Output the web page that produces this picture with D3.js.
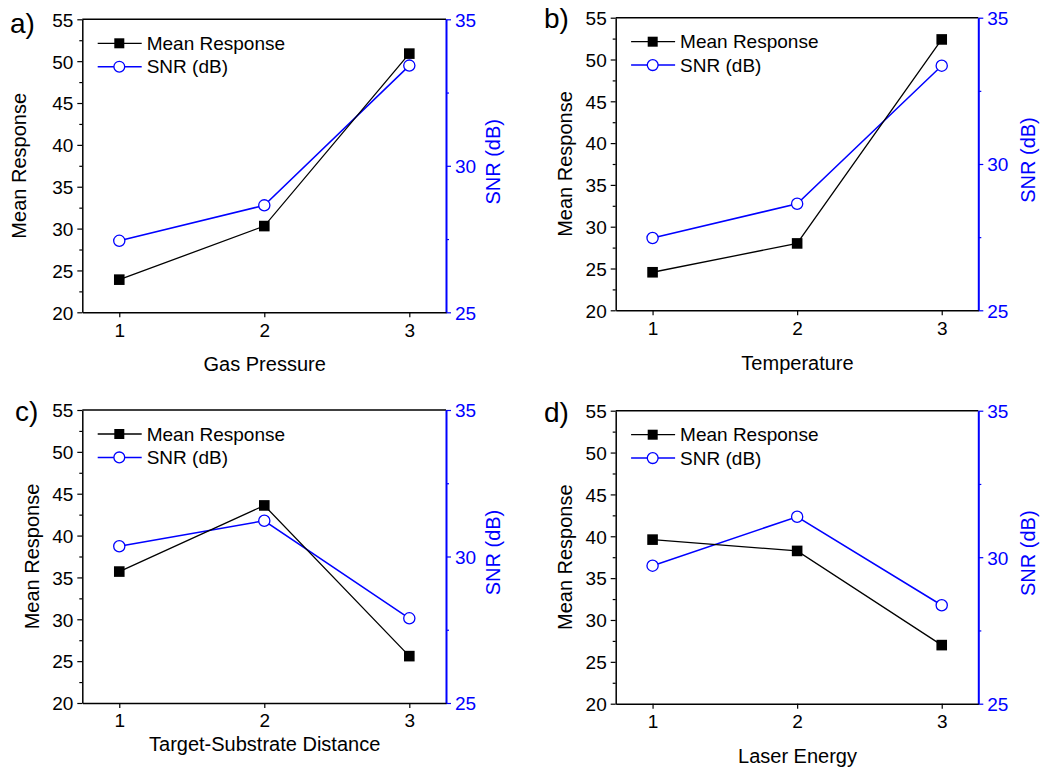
<!DOCTYPE html>
<html><head><meta charset="utf-8">
<script src="https://cdn.jsdelivr.net/npm/d3@7"></script>
<style>body{margin:0;background:#fff} text{font-family:Arial,"Liberation Sans",sans-serif}</style>
</head><body><svg id="c" width="1041" height="773"></svg>
<script>
// ---- data ----
const categories = [1, 2, 3];
const xTickLabels = ["1", "2", "3"];
const leftTicks = [20, 25, 30, 35, 40, 45, 50, 55];
const leftMinor = [22.5, 27.5, 32.5, 37.5, 42.5, 47.5, 52.5];
const rightTicks = [25, 30, 35];
const rightMinor = [27.5, 32.5];
const panelLabels = ["a)", "b)", "c)", "d)"];
const xTitles = ["Gas Pressure", "Temperature", "Target-Substrate Distance", "Laser Energy"];
const seriesNames = ["Mean Response", "SNR (dB)"];
const leftTitle = "Mean Response";
const rightTitle = "SNR (dB)";

const meanA = [23.9, 30.3, 50.9];
const snrA  = [27.44, 28.65, 33.42];
const meanB = [24.55, 28.0, 52.4];
const snrB  = [27.47, 28.64, 33.36];
const meanC = [35.7, 43.6, 25.6];
const snrC  = [30.35, 31.22, 27.89];
const meanD = [39.6, 38.25, 27.0];
const snrD  = [29.71, 31.38, 28.36];

const meanSeries = [meanA, meanB, meanC, meanD];
const snrSeries = [snrA, snrB, snrC, snrD];

// ---- layout ----
const layout = [
  {l: 82.3, r: 446, t: 19.3, b: 312.3, xt: 371, yt: 26, rt: 500, lab: [10, 33]},
  {l: 615.7, r: 978.3, t: 17.7, b: 310.3, xt: 370, yt: 572, rt: 1035, lab: [544, 28]},
  {l: 82.3, r: 446, t: 410, b: 703, xt: 751, yt: 39, rt: 500, lab: [15, 421]},
  {l: 615.7, r: 978.3, t: 410.7, b: 703.7, xt: 763, yt: 572, rt: 1035, lab: [544, 422]}
];
const BLUE = "#0000ff";
const FONT = "Arial, 'Liberation Sans', sans-serif";
const svg = d3.select("#c");

layout.forEach((L, i) => {
  const g = svg.append("g");
  const x = d3.scaleLinear().domain([0.745, 3.253]).range([L.l, L.r]);
  const y = d3.scaleLinear().domain([20, 55]).range([L.b, L.t]);
  const y2 = d3.scaleLinear().domain([25, 35]).range([L.b, L.t]);

  // top frame
  g.append("line").attr("x1", L.l).attr("x2", L.r).attr("y1", L.t).attr("y2", L.t)
    .attr("stroke", "#000").attr("stroke-width", 1.5);

  // left axis minor
  g.append("g").attr("transform", `translate(${L.l},0)`)
    .call(d3.axisLeft(y).tickValues(leftMinor).tickSize(3).tickFormat("").tickSizeOuter(0))
    .call(a => a.select(".domain").remove())
    .call(a => a.selectAll("line").attr("stroke-width", 1.2));
  // left axis major
  g.append("g").attr("transform", `translate(${L.l},0)`)
    .call(d3.axisLeft(y).tickValues(leftTicks).tickSize(5).tickPadding(4).tickSizeOuter(0))
    .call(a => a.select(".domain").attr("stroke-width", 1.5))
    .call(a => a.selectAll("line").attr("stroke-width", 1.2))
    .call(a => a.selectAll("text").attr("font-size", 19).attr("font-family", FONT).attr("fill", "#000").attr("dy", "0.36em"));

  // right axis minor
  g.append("g").attr("transform", `translate(${L.r},0)`)
    .call(d3.axisRight(y2).tickValues(rightMinor).tickSize(3).tickFormat("").tickSizeOuter(0))
    .call(a => a.select(".domain").remove())
    .call(a => a.selectAll("line").attr("stroke", BLUE).attr("stroke-width", 1.2));
  // right axis major
  g.append("g").attr("transform", `translate(${L.r},0)`)
    .call(d3.axisRight(y2).tickValues(rightTicks).tickSize(5).tickPadding(4).tickSizeOuter(0))
    .call(a => a.select(".domain").attr("stroke", BLUE).attr("stroke-width", 2))
    .call(a => a.selectAll("line").attr("stroke", BLUE).attr("stroke-width", 1.2))
    .call(a => a.selectAll("text").attr("font-size", 19).attr("font-family", FONT).attr("fill", BLUE).attr("dy", "0.36em"));

  // bottom axis
  g.append("g").attr("transform", `translate(0,${L.b})`)
    .call(d3.axisBottom(x).tickValues(categories).tickFormat((d, k) => xTickLabels[k]).tickSize(5).tickPadding(6).tickSizeOuter(0))
    .call(a => a.select(".domain").attr("stroke-width", 1.5))
    .call(a => a.selectAll("line").attr("stroke-width", 1.2))
    .call(a => a.selectAll("text").attr("font-size", 19).attr("font-family", FONT).attr("fill", "#000"));

  // titles
  g.append("text").attr("x", (L.l + L.r) / 2 + 0.5).attr("y", L.xt).attr("text-anchor", "middle")
    .attr("font-size", 20).text(xTitles[i]);
  g.append("text").attr("transform", `translate(${L.yt},${(L.t + L.b) / 2}) rotate(-90)`)
    .attr("text-anchor", "middle").attr("font-size", 20).text(leftTitle);
  g.append("text").attr("transform", `translate(${L.rt},${(L.t + L.b) / 2 - 4}) rotate(-90)`)
    .attr("text-anchor", "middle").attr("font-size", 20).attr("fill", BLUE).text(rightTitle);
  g.append("text").attr("x", L.lab[0]).attr("y", L.lab[1]).attr("font-size", 28).text(panelLabels[i]);

  // lines
  const pts = meanSeries[i].map((v, k) => [x(categories[k]), y(v)]);
  const pts2 = snrSeries[i].map((v, k) => [x(categories[k]), y2(v)]);
  g.append("path").attr("d", d3.line()(pts2)).attr("fill", "none").attr("stroke", BLUE).attr("stroke-width", 1.5);
  g.append("path").attr("d", d3.line()(pts)).attr("fill", "none").attr("stroke", "#000").attr("stroke-width", 1.3);
  g.selectAll(".sq").data(pts).join("rect").attr("x", d => d[0] - 5.3).attr("y", d => d[1] - 5.3)
    .attr("width", 10.6).attr("height", 10.6).attr("fill", "#000");
  g.selectAll(".ci").data(pts2).join("circle").attr("cx", d => d[0]).attr("cy", d => d[1])
    .attr("r", 5.6).attr("fill", "#fff").attr("stroke", BLUE).attr("stroke-width", 1.3);

  // legend
  const lx0 = L.l + 15.4, lx1 = L.l + 59.4, lxm = L.l + 37;
  const ly1 = L.t + 24, ly2 = L.t + 47.4;
  g.append("line").attr("x1", lx0).attr("x2", lx1).attr("y1", ly1).attr("y2", ly1).attr("stroke", "#000").attr("stroke-width", 1.3);
  g.append("rect").attr("x", lxm - 5).attr("y", ly1 - 5).attr("width", 10).attr("height", 10).attr("fill", "#000");
  g.append("text").attr("x", L.l + 64.4).attr("y", ly1).attr("dy", "0.35em").attr("font-size", 19).text(seriesNames[0]);
  g.append("line").attr("x1", lx0).attr("x2", lx1).attr("y1", ly2).attr("y2", ly2).attr("stroke", BLUE).attr("stroke-width", 1.5);
  g.append("circle").attr("cx", lxm).attr("cy", ly2).attr("r", 5.4).attr("fill", "#fff").attr("stroke", BLUE).attr("stroke-width", 1.3);
  g.append("text").attr("x", L.l + 64.4).attr("y", ly2).attr("dy", "0.35em").attr("font-size", 19).text(seriesNames[1]);
});
</script></body></html>
